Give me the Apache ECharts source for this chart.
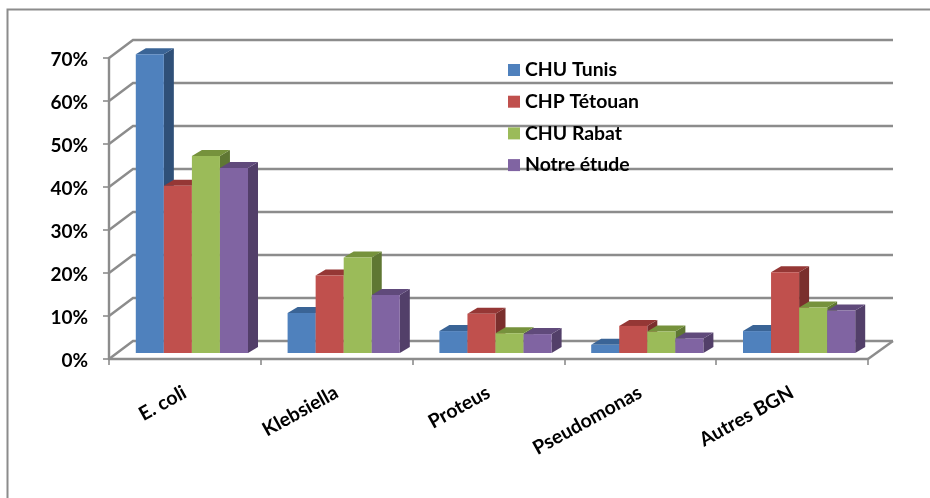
<!DOCTYPE html>
<html><head><meta charset="utf-8">
<script src="https://cdn.jsdelivr.net/npm/echarts@6/dist/echarts.min.js"></script>
<style>html,body{margin:0;padding:0;background:#fff}#c{width:930px;height:498px}</style>
</head><body><div id="c"></div>
<script>
const categories = ['E. coli','Klebsiella','Proteus','Pseudomonas','Autres BGN'];
const chuTunis   = [69.5, 9.3, 5.1, 1.9, 5.1];
const chpTetouan = [38.9, 18.0, 9.1, 6.3, 18.8];
const chuRabat   = [45.8, 22.2, 4.6, 5.0, 10.6];
const notreEtude = [43.0, 13.5, 4.4, 3.4, 9.9];
const yTicks = [0,10,20,30,40,50,60,70];
const seriesNames = ['CHU Tunis','CHP Tétouan','CHU Rabat','Notre étude'];
const seriesValues = [chuTunis, chpTetouan, chuRabat, notreEtude];
const faces = [
 ['#4F81BD','#3A6496','#2F5078'],
 ['#C0504D','#953735','#7A2F2D'],
 ['#9BBB59','#76923C','#5F7733'],
 ['#8064A2','#604A7B','#523F69']];
const GRAY='#8C8C8C', FONT='Lato, Carlito, sans-serif';
const chart = echarts.init(document.getElementById('c'),null,{renderer:'canvas'});

function wallItem(params, api){
  const v = api.value(1), cs = params.coordSys;
  const y = api.coord([0,v])[1], x0 = cs.x, x1 = cs.x+cs.width;
  const st = {stroke:GRAY, lineWidth:2.4, fill:null};
  const kids = [
    {type:'polyline', shape:{points:[[x0,y],[x0+24,y-18],[x1+25,y-18]]}, style:st}
  ];
  if(v===0) kids.push({type:'polyline', shape:{points:[[x1,y],[x1+25,y-18]]}, style:st});
  return {type:'group', children:kids};
}
function barItem(idx){
  return function(params, api){
    const c = api.coord([api.value(0), api.value(1)]);
    const base = api.coord([api.value(0), 0]);
    const w = api.size([1,0])[0]*0.1848;
    const x = c[0]+7+(idx-2)*w, top=c[1]-6, bot=base[1]-6, dx=10, dy=6;
    return {type:'group', children:[
      {type:'polygon', shape:{points:[[x+w,top],[x+w+dx,top-dy],[x+w+dx,bot-dy],[x+w,bot]]}, style:{fill:faces[idx][2]}},
      {type:'polygon', shape:{points:[[x,top],[x+dx,top-dy],[x+w+dx,top-dy],[x+w,top]]}, style:{fill:faces[idx][1]}},
      {type:'rect', shape:{x:x,y:top,width:w,height:bot-top}, style:{fill:faces[idx][0]}}
    ]};
  };
}
const series = [{
  type:'custom', silent:true, z:1, renderItem:wallItem, clip:false,
  data: yTicks.map(v=>[0,v]), encode:{x:0,y:1}
}];
seriesNames.forEach((n,i)=>series.push({
  name:n, type:'custom', z:3, renderItem:barItem(i), clip:false,
  itemStyle:{color:faces[i][0]},
  data: seriesValues[i].map((v,k)=>[k,v]), encode:{x:0,y:1}
}));
chart.setOption({
  animation:false,
  backgroundColor:'#fff',
  graphic:[{type:'polyline', z:0, shape:{points:[[7.5,498],[7.5,9.5],[930,9.5]]}, style:{fill:'none',stroke:'#8C8C8C',lineWidth:2}}],
  grid:{left:109,right:62,top:58,bottom:139,containLabel:false},
  xAxis:{type:'category',data:categories,boundaryGap:true,
    axisLine:{lineStyle:{color:GRAY,width:2.4}},
    axisTick:{show:true,length:6,lineStyle:{color:GRAY,width:1.6}},
    axisLabel:{rotate:29,interval:0,margin:32,color:'#000',fontFamily:FONT,fontWeight:'bold',fontSize:19.5}},
  yAxis:{type:'value',min:0,max:70,interval:10,
    axisLine:{show:true,lineStyle:{color:GRAY,width:2.4}},
    axisTick:{show:true,length:6,lineStyle:{color:GRAY,width:1.6}},
    splitLine:{show:false},
    axisLabel:{formatter:'{value}%',margin:21,color:'#000',fontFamily:FONT,fontWeight:'bold',fontSize:19,verticalAlign:'top',lineHeight:4}},
  legend:{data:seriesNames,orient:'vertical',left:508,top:60,padding:0,itemWidth:12,itemHeight:12,itemGap:11.7,
    icon:'rect',z:10,
    textStyle:{color:'#000',fontFamily:FONT,fontWeight:'bold',fontSize:19.4,lineHeight:20},
    selectedMode:false},
  series
});
</script></body></html>
